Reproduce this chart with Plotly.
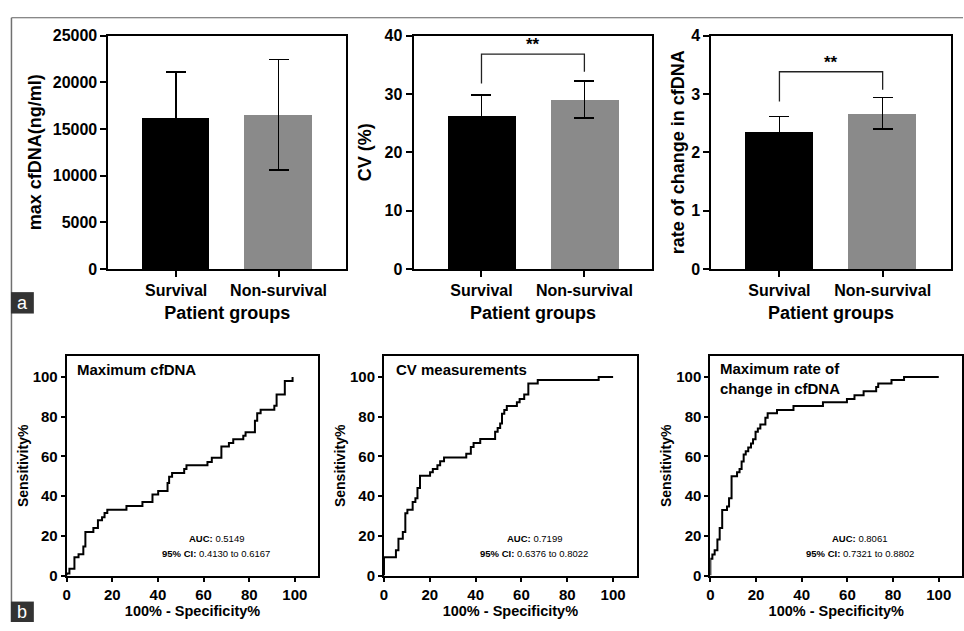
import plotly.graph_objects as go

# ---------------- data ----------------
groups = ["Survival", "Non-survival"]
bar_colors = ["#000000", "#8a8a8a"]

max_cfdna_mean = [16230, 16540]
max_cfdna_sd = [4860, 5910]
cv_mean = [26.3, 29.05]
cv_sd = [3.5, 3.2]
rate_mean = [2.36, 2.667]
rate_sd = [0.25, 0.27]

# significance brackets: [left foot, top, right foot]
cv_bracket = [31.8, 36.8, 33.8]
rate_bracket = [2.87, 3.38, 3.07]
sig_label = "**"

# ROC curves (100% - specificity, sensitivity)
roc1_fpr = [0, 0, 1.2, 3.4, 5.2, 7.3, 8.2, 11.7, 13.7, 15.5, 16.6, 17.8, 26.2, 33.2, 37.6, 40.1,
            44.2, 44.9, 46.2, 51.5, 52.5, 61.7, 63.6, 67.8, 71.1, 73.0, 77.4, 78.4, 82.5, 83.5,
            85.0, 91.0, 92.0, 95.6, 99.0]
roc1_sens = [0, 1, 3.4, 9.2, 10.8, 14.7, 22.0, 23.9, 27.8, 29.4, 31.5, 33.2, 35.0, 37.0, 40.8, 42.6,
             46.6, 49.8, 51.6, 53.6, 55.6, 57.2, 59.3, 65.0, 66.7, 68.6, 70.4, 72.2, 78.0, 81.7,
             83.5, 85.5, 91.2, 98.0, 100]

roc2_fpr = [0, 0, 5.2, 6.3, 8.2, 9.3, 10.2, 12.5, 13.7, 14.6, 15.7, 20.1, 21.3, 23.3, 24.5, 26.2,
            35.9, 37.9, 39.1, 42.0, 48.5, 49.6, 50.7, 51.5, 52.5, 53.6, 58.0, 59.2, 61.2, 63.0,
            67.1, 93.7, 100]
roc2_sens = [0, 9.2, 12.7, 18.5, 22.0, 31.4, 33.2, 37.0, 38.9, 44.1, 50.3, 52.0, 53.6, 55.6, 57.5, 59.5,
             61.3, 64.7, 66.7, 68.8, 72.4, 74.3, 76.5, 81.4, 83.3, 85.3, 87.3, 88.9, 91.2, 96.7,
             98.4, 100, 100]

roc3_fpr = [0, 0, 0.9, 1.9, 3.1, 4.1, 5.2, 7.3, 8.2, 9.3, 11.7, 12.8, 13.7, 14.6, 15.5, 16.6,
            17.8, 18.7, 19.8, 20.8, 21.9, 24.1, 25.1, 29.2, 36.4, 49.3, 59.8, 63.1, 67.1, 72.6,
            73.5, 79.3, 84.8, 100]
roc3_sens = [0, 8.5, 10.6, 12.7, 18.1, 23.9, 33.0, 34.8, 38.9, 50.0, 52.0, 53.6, 57.4, 61.0, 62.6, 64.5,
             66.5, 68.6, 72.4, 74.0, 76.0, 79.4, 81.7, 83.3, 85.3, 87.3, 88.9, 90.8, 92.8, 94.9,
             96.7, 98.4, 100, 100]

roc_titles = ["Maximum cfDNA", "CV measurements", "Maximum rate of<br>change in cfDNA"]
roc_auc = ["0.5149", "0.7199", "0.8061"]
roc_ci = ["0.4130 to 0.6167", "0.6376 to 0.8022", "0.7321 to 0.8802"]

bar_ytitles = ["max cfDNA(ng/ml)", "CV (%)", "rate of change in cfDNA"]
bar_yticks = [[0, 5000, 10000, 15000, 20000, 25000], [0, 10, 20, 30, 40], [0, 1, 2, 3, 4]]
roc_ticks = [0, 20, 40, 60, 80, 100]

# ---------------- figure ----------------
W, H = 964, 631
FONT = "Liberation Sans, Arial, Helvetica, sans-serif"

def px_x(a, b):
    return [a / W, b / W]

def px_y(top, bottom):
    return [1 - bottom / H, 1 - top / H]

def bold(vals):
    return [f"<b>{v}</b>" for v in vals]

top_dom_y = px_y(28.3, 268.3)
bot_dom_y = px_y(357.7, 583.3)
top_dom_x = [px_x(105, 344), px_x(411.7, 651.7), px_x(711, 951.7)]
bot_dom_x = [px_x(63, 316), px_x(382, 636), px_x(710, 963.3)]

fig = go.Figure()

bar_means = [max_cfdna_mean, cv_mean, rate_mean]
bar_sds = [max_cfdna_sd, cv_sd, rate_sd]

for i in range(3):
    ax = "" if i == 0 else str(i + 1)
    fig.add_trace(go.Bar(
        x=groups, y=bar_means[i],
        marker=dict(color=bar_colors, line=dict(width=0)),
        width=0.66,
        error_y=dict(type="data", array=bar_sds[i], visible=True,
                     color="#000000", thickness=1.5, width=10),
        xaxis="x" + ax, yaxis="y" + ax, showlegend=False,
    ))

rocs = [(roc1_fpr, roc1_sens), (roc2_fpr, roc2_sens), (roc3_fpr, roc3_sens)]
for i, (fx, sy) in enumerate(rocs):
    ax = str(i + 4)
    fig.add_trace(go.Scatter(
        x=fx, y=sy, mode="lines", line=dict(color="black", width=2, shape="hv"),
        xaxis="x" + ax, yaxis="y" + ax, showlegend=False,
    ))

axis_common = dict(showline=True, linewidth=2, linecolor="black", mirror=True,
                   showgrid=False, zeroline=False, ticks="outside", tickwidth=2,
                   tickcolor="black")

layout = dict(width=W, height=H, margin=dict(l=0, r=0, t=0, b=0),
              paper_bgcolor="white", plot_bgcolor="white",
              font=dict(family=FONT, color="black"), bargap=0)

ytitle_standoff = [6, 8, 2]
for i in range(3):
    n = "" if i == 0 else str(i + 1)
    layout["xaxis" + n] = dict(axis_common, domain=top_dom_x[i], anchor="y" + n,
                               range=[-0.66, 1.66], ticklen=6, fixedrange=True,
                               tickvals=groups, ticktext=bold(groups),
                               tickfont=dict(family=FONT, size=16),
                               title=dict(text="<b>Patient groups</b>", standoff=8,
                                          font=dict(family=FONT, size=18)))
    layout["yaxis" + n] = dict(axis_common, domain=top_dom_y, anchor="x" + n,
                               range=[bar_yticks[i][0], bar_yticks[i][-1]],
                               tickvals=bar_yticks[i], ticktext=bold(bar_yticks[i]), ticklen=6,
                               tickfont=dict(family=FONT, size=16),
                               title=dict(text=f"<b>{bar_ytitles[i]}</b>", standoff=ytitle_standoff[i],
                                          font=dict(family=FONT, size=18)))

for i in range(3):
    n = str(i + 4)
    layout["xaxis" + n] = dict(axis_common, domain=bot_dom_x[i], anchor="y" + n,
                               range=[0, 110.3], tickvals=roc_ticks, ticktext=bold(roc_ticks), ticklen=4,
                               tickfont=dict(family=FONT, size=15),
                               title=dict(text="<b>100% - Specificity%</b>", standoff=4,
                                          font=dict(family=FONT, size=14.5)))
    layout["yaxis" + n] = dict(axis_common, domain=bot_dom_y, anchor="x" + n,
                               range=[0, 110.5], tickvals=roc_ticks, ticktext=bold(roc_ticks), ticklen=4,
                               tickfont=dict(family=FONT, size=15),
                               title=dict(text="<b>Sensitivity%</b>", standoff=1,
                                          font=dict(family=FONT, size=14)))

fig.update_layout(**layout)

shapes = []
annotations = []

# significance brackets
for axn, br in (("2", cv_bracket), ("3", rate_bracket)):
    xr, yr = "x" + axn, "y" + axn
    shapes.append(dict(type="path", xref=xr, yref=yr,
                       path=f"M 0 {br[0]} L 0 {br[1]} L 1 {br[1]} L 1 {br[2]}",
                       line=dict(color="#222", width=1.3)))
    annotations.append(dict(xref=xr, yref=yr, x=0.5, y=br[1], text=f"<b>{sig_label}</b>",
                            showarrow=False, yanchor="bottom", yshift=-2,
                            font=dict(family=FONT, size=17)))

# ROC panel texts
title_x = [0.035, 0.038, 0.029]
title_y = [0.937, 0.937, 0.897]
for i in range(3):
    n = str(i + 4)
    annotations.append(dict(xref=f"x{n} domain", yref=f"y{n} domain", x=title_x[i], y=title_y[i],
                            text=f"<b>{roc_titles[i]}</b>", showarrow=False, xanchor="left",
                            yanchor="middle", align="left", font=dict(family=FONT, size=15)))
    annotations.append(dict(xref="x" + n, yref="y" + n, x=65.5, y=18.8,
                            text=f"<b>AUC:</b> {roc_auc[i]}", showarrow=False,
                            font=dict(family=FONT, size=9.5)))
    annotations.append(dict(xref="x" + n, yref="y" + n, x=65.5, y=11.2,
                            text=f"<b>95% CI:</b> {roc_ci[i]}", showarrow=False,
                            font=dict(family=FONT, size=9.5)))

# outer frame (partially cropped) and panel letters
shapes.append(dict(type="line", xref="paper", yref="paper", x0=7.5 / W, x1=1, y0=1 - 10 / H, y1=1 - 10 / H,
                   line=dict(color="#606060", width=1.2)))
shapes.append(dict(type="line", xref="paper", yref="paper", x0=7.5 / W, x1=7.5 / W, y0=0, y1=1 - 10 / H,
                   line=dict(color="#707070", width=1.5)))
for letter, top, bot in (("a", 292, 314), ("b", 610, 631)):
    shapes.append(dict(type="rect", xref="paper", yref="paper", x0=7 / W, x1=30 / W,
                       y0=1 - bot / H, y1=1 - top / H, fillcolor="#333333", line=dict(width=0)))
    annotations.append(dict(xref="paper", yref="paper", x=18.5 / W, y=1 - (top + bot) / 2 / H,
                            text=letter, showarrow=False, xanchor="center", yanchor="middle",
                            font=dict(family=FONT, size=18, color="white")))

fig.update_layout(shapes=shapes, annotations=annotations)
fig.write_html("out.html", config={"displayModeBar": False},
               post_script="document.body.style.margin='0';")
